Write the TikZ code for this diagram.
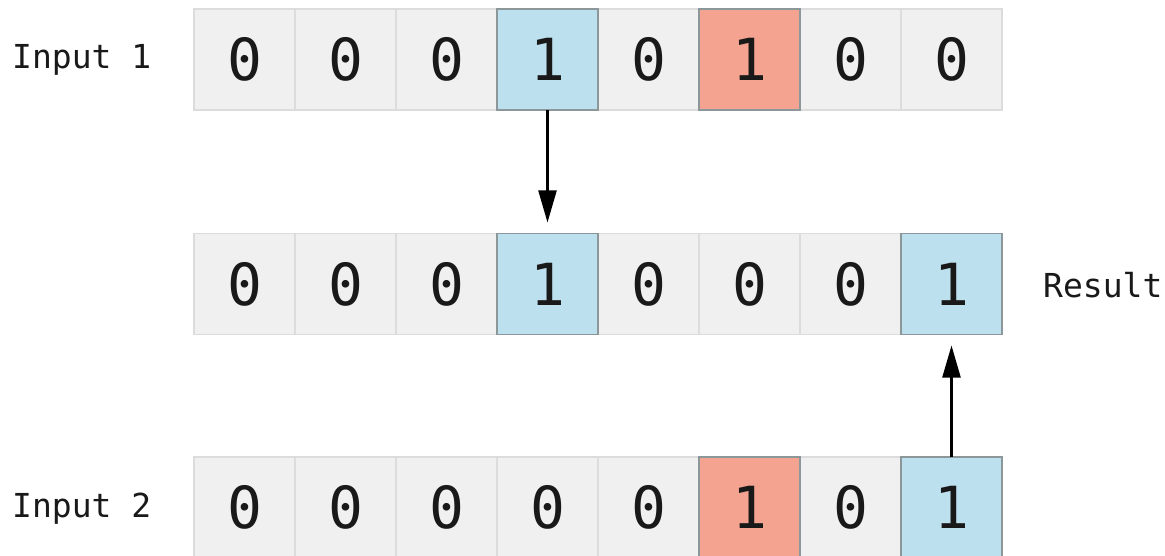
\documentclass[tikz,border=0pt]{standalone}
\usepackage{fontspec}
\setmonofont[RawFeature=+zero]{DejaVu Sans Mono}
\usetikzlibrary{arrows.meta}
\definecolor{cellgray}{HTML}{F0F0F0}
\definecolor{cellline}{HTML}{DCDCDC}
\definecolor{hiblue}{HTML}{BCE0EE}
\definecolor{hired}{HTML}{F3A38F}
\definecolor{hiline}{HTML}{8C9799}
\tikzset{
  cell/.style={draw=cellline, line width=1.5pt, fill=cellgray, minimum width=101pt, minimum height=101pt, inner sep=0pt, outer sep=0pt, font=\ttfamily\fontsize{58}{58}\selectfont, text=black!90},
  bluecell/.style={cell, fill=hiblue, draw=hiline},
  redcell/.style={cell, fill=hired, draw=hiline},
  lbl/.style={font=\ttfamily\fontsize{33}{33}\selectfont, text=black!90, inner sep=0pt, anchor=west},
  conn/.style={line width=2.2pt, -{Triangle[length=32pt,width=18pt]}, shorten >=11pt}
}
\begin{document}
\begin{tikzpicture}[x=1pt,y=-1pt]
\clip (0,0) rectangle (1165,556);
\fill[white] (0,0) rectangle (1165,556);
% row 1
\foreach \i/\v in {0/0,1/0,2/0,4/0,6/0,7/0}{
  \node[cell] (r1c\i) at ({244.5+101*\i},59.5) {\v};
}
\node[bluecell] (r1c3) at ({244.5+101*3},59.5) {1};
\node[redcell] (r1c5) at ({244.5+101*5},59.5) {1};
% row 2
\foreach \i/\v in {0/0,1/0,2/0,4/0,5/0,6/0}{
  \node[cell] (r2c\i) at ({244.5+101*\i},284) {\v};
}
\node[bluecell] (r2c3) at ({244.5+101*3},284) {1};
\node[bluecell] (r2c7) at ({244.5+101*7},284) {1};
% row 3
\foreach \i/\v in {0/0,1/0,2/0,3/0,4/0,6/0}{
  \node[cell] (r3c\i) at ({244.5+101*\i},507.5) {\v};
}
\node[redcell] (r3c5) at ({244.5+101*5},507.5) {1};
\node[bluecell] (r3c7) at ({244.5+101*7},507.5) {1};
% labels
\node[lbl] (in1) at (12,60) {Input 1};
\node[lbl] (in2) at (12,509) {Input 2};
\node[lbl] (res) at (1043,285) {Result};
% connectors
\draw[conn] (r1c3.south) -- (r2c3.north);
\draw[conn] (r3c7.north) -- (r2c7.south);
\end{tikzpicture}
\end{document}
